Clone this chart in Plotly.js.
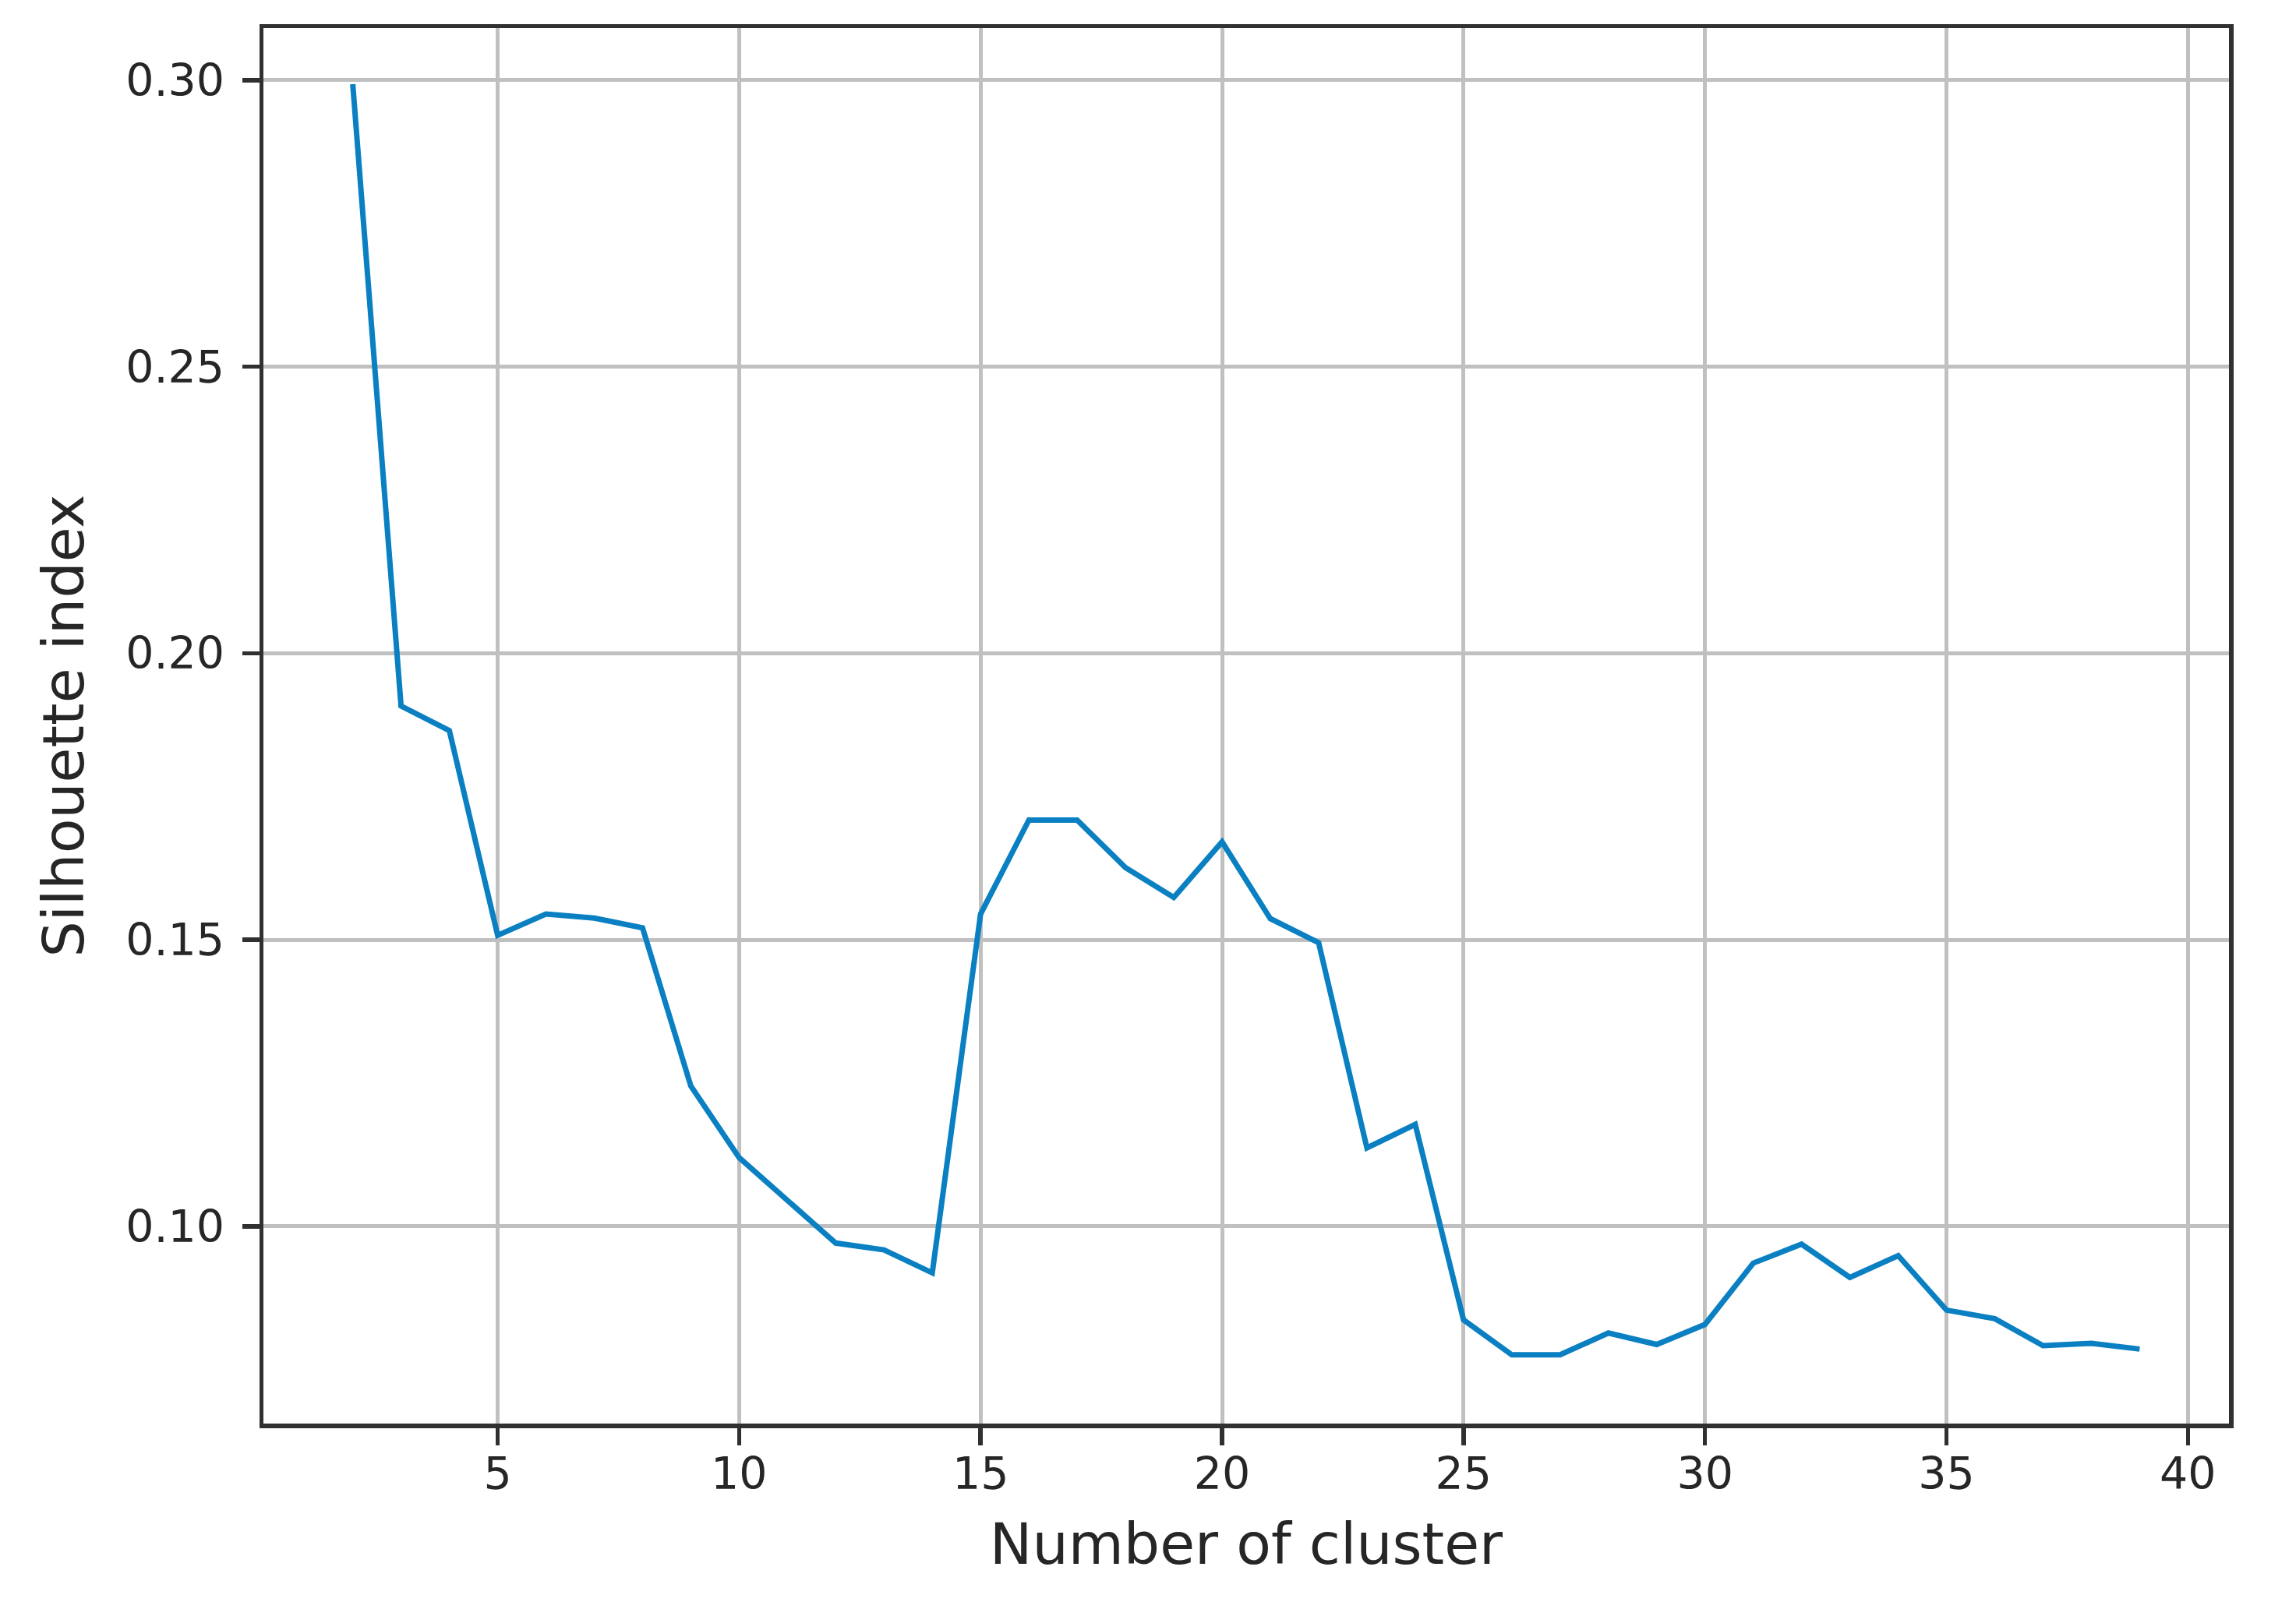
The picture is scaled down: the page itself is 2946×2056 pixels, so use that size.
<!DOCTYPE html>
<html>
<head>
<meta charset="utf-8">
<script src="https://cdn.plot.ly/plotly-3.0.1.min.js"></script>
<style>
  html, body { margin: 0; padding: 0; background: #fff; }
  #display { width: 2946px; height: 2056px; }
</style>
</head>
<body>
<div id="display"></div>
<script>
// number of clusters and silhouette index
let clusters = [2,3,4,5,6,7,8,9,10,11,12,13,14,15,16,17,18,19,20,
	21,22,23,24,25,26,27,28,29,30,31,32,33,34,35,36,37,38,39];
let silhouette = [0.2993,0.1908,0.1865,0.1508,0.1545,0.1538,0.1521,0.1245,0.1120,0.1045,
	0.0971,0.0959,0.0919,0.1545,0.1709,0.1709,0.1626,0.1574,0.1671,0.1537,
	0.1495,0.1137,0.1178,0.0837,0.0776,0.0776,0.0814,0.0794,0.0829,0.0936,
	0.0969,0.0911,0.0949,0.0854,0.0839,0.0792,0.0796,0.0786];
let xticks = [5,10,15,20,25,30,35,40];
let yticks = [0.10,0.15,0.20,0.25,0.30];

let font = 'DejaVu Sans, sans-serif';

let line = {
	x: clusters,
	y: silhouette,
	mode: 'lines',
	line: {color: '#0a80c2', width: 7},
	hoverinfo: 'skip'
};

let axisbase = {
	showline: true,
	mirror: true,
	linecolor: '#303030',
	linewidth: 5.5,
	showgrid: true,
	gridcolor: '#c0c0c0',
	gridwidth: 5,
	zeroline: false,
	ticks: 'outside',
	ticklen: 22,
	tickwidth: 5.5,
	tickcolor: '#303030',
	tickfont: {family: font, size: 57, color: '#262626'},
	automargin: false
};

let layout = {
	width: 2946,
	height: 2056,
	margin: {l: 338, r: 86, t: 36, b: 229},
	paper_bgcolor: '#ffffff',
	plot_bgcolor: '#ffffff',
	showlegend: false,
	font: {family: font, color: '#262626'},
	xaxis: Object.assign({}, axisbase, {
		range: [0.15, 40.85],
		tickvals: xticks,
		ticktext: xticks.map(String),
		ticklabelstandoff: -12,
		title: {text: 'Number of cluster', font: {family: font, size: 73, color: '#262626'}, standoff: 35}
	}),
	yaxis: Object.assign({}, axisbase, {
		range: [0.0656, 0.3091],
		tickvals: yticks,
		ticktext: yticks.map(v => v.toFixed(2)),
		ticklabelstandoff: 11,
		title: {text: 'Silhouette index', font: {family: font, size: 73, color: '#262626'}, standoff: 31}
	})
};

Plotly.newPlot('display', [line], layout, {displayModeBar: false, staticPlot: true});
</script>
</body>
</html>
